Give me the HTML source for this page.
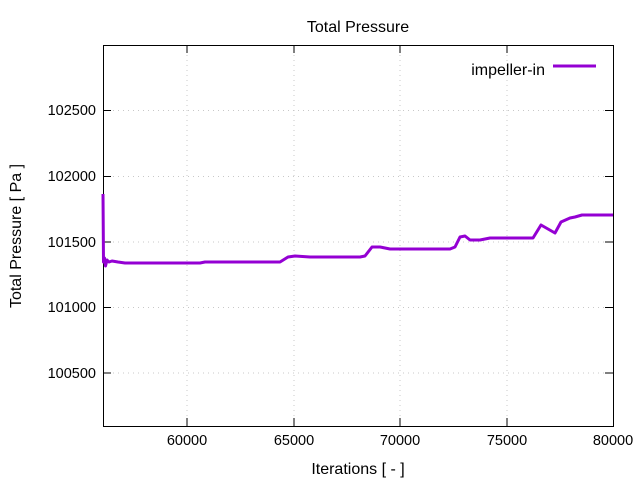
<!DOCTYPE html>
<html><head><style>body{margin:0;background:#fff}svg{display:block}text{font-family:"Liberation Sans",sans-serif;font-size:14.5px;fill:#000}.b{font-size:16px}</style></head><body>
<svg width="640" height="480" xmlns="http://www.w3.org/2000/svg">
<g stroke="#c8c8c8" stroke-dasharray="1,4" stroke-width="1">
<line x1="187" y1="45" x2="187" y2="426"/><line x1="294" y1="45" x2="294" y2="426"/><line x1="400" y1="45" x2="400" y2="426"/><line x1="507" y1="45" x2="507" y2="426"/>
<line x1="103" y1="110.5" x2="613" y2="110.5"/><line x1="103" y1="176.5" x2="613" y2="176.5"/><line x1="103" y1="242" x2="613" y2="242"/><line x1="103" y1="307.5" x2="613" y2="307.5"/><line x1="103" y1="373" x2="613" y2="373"/>
</g>
<rect x="103.5" y="45.5" width="510" height="381" fill="none" stroke="#000"/>
<g stroke="#000">
<line x1="103" y1="110.5" x2="111" y2="110.5"/><line x1="103" y1="176.5" x2="111" y2="176.5"/><line x1="103" y1="242" x2="111" y2="242"/><line x1="103" y1="307.5" x2="111" y2="307.5"/><line x1="103" y1="373" x2="111" y2="373"/>
<line x1="613" y1="110.5" x2="605" y2="110.5"/><line x1="613" y1="176.5" x2="605" y2="176.5"/><line x1="613" y1="242" x2="605" y2="242"/><line x1="613" y1="307.5" x2="605" y2="307.5"/><line x1="613" y1="373" x2="605" y2="373"/>
<line x1="187" y1="426" x2="187" y2="418"/><line x1="294" y1="426" x2="294" y2="418"/><line x1="400" y1="426" x2="400" y2="418"/><line x1="507" y1="426" x2="507" y2="418"/>
<line x1="187" y1="45" x2="187" y2="53"/><line x1="294" y1="45" x2="294" y2="53"/><line x1="400" y1="45" x2="400" y2="53"/><line x1="507" y1="45" x2="507" y2="53"/>
</g>
<g text-anchor="end">
<text x="96" y="115">102500</text><text x="96" y="181">102000</text><text x="96" y="247">101500</text><text x="96" y="312">101000</text><text x="96" y="378">100500</text>
</g>
<g text-anchor="middle">
<text x="187" y="445">60000</text><text x="294" y="445">65000</text><text x="400" y="445">70000</text><text x="507" y="445">75000</text><text x="613" y="445">80000</text>
<text class="b" x="358" y="474">Iterations [ - ]</text>
<text class="b" x="358" y="32">Total Pressure</text>
<text class="b" transform="translate(21,236) rotate(-90)">Total Pressure [ Pa ]</text>
</g>
<text class="b" x="545" y="75" text-anchor="end">impeller-in</text>
<line x1="553" y1="66" x2="596" y2="66" stroke="#9400d3" stroke-width="3"/>
<polyline fill="none" stroke="#9400d3" stroke-width="3" stroke-linejoin="round" points="103,194 103.5,262 104.5,258 105.5,266 107,260 109,262 112,261 118,262 125,263 200,263 205,262 280,262 288,257 295,256 310,257 360,257 365,256 372,247 380,247 390,249 450,249 455,247 460,237 465,236 470,240 480,240 490,238 533,238 541,225 555,233 561,222 570,218 575,217 582,215 590,215 613,215"/>
</svg>
</body></html>
